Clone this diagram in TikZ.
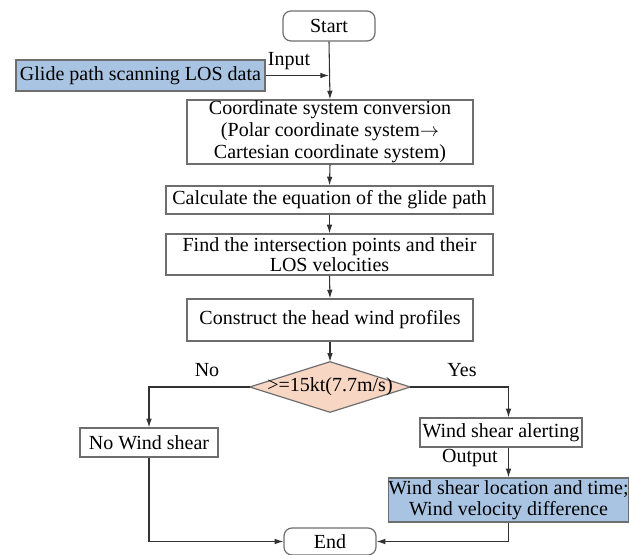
\documentclass[tikz,border=0pt]{standalone}
\usepackage{fontspec}
\setmainfont{Liberation Serif}
\usetikzlibrary{arrows.meta}
\definecolor{boxblue}{RGB}{168,196,226}
\definecolor{peach}{RGB}{248,214,196}
\definecolor{edgegray}{RGB}{110,110,110}
\definecolor{linegray}{RGB}{50,50,50}
\tikzset{
  box/.style={draw=edgegray, line width=0.9pt, fill=white, inner sep=0pt, align=center,
    font=\fontsize{15pt}{15.4pt}\selectfont},
  bluebox/.style={box, fill=boxblue},
  term/.style={box, rounded corners=6pt},
  lbl/.style={inner sep=0pt, font=\fontsize{15pt}{15.4pt}\selectfont},
  conn/.style={draw=linegray, line width=0.8pt},
  arr/.style={conn, -{Latex[length=6.5pt,width=4.2pt]}},
}
\begin{document}
\begin{tikzpicture}[x=0.75pt,y=-0.75pt]
\useasboundingbox (0,0) rectangle (629,555);
\node[term, minimum width=92*0.75pt, minimum height=30*0.75pt] (start) at (329,26) {Start};
\node[bluebox, minimum width=249*0.75pt, minimum height=31*0.75pt] (glide) at (140.5,75.5) {Glide path scanning LOS data};
\node[box, font=\fontsize{15pt}{16.6pt}\selectfont, minimum width=286*0.75pt, minimum height=64*0.75pt] (coord) at (330,132) {Coordinate system conversion\\(Polar coordinate system$\rightarrow$\\Cartesian coordinate system)};
\node[box, minimum width=327*0.75pt, minimum height=28*0.75pt] (calc) at (329.5,200) {Calculate the equation of the glide path};
\node[box, minimum width=327*0.75pt, minimum height=41*0.75pt] (find) at (329.5,254.5) {Find the intersection points and their\\LOS velocities};
\node[box, minimum width=286*0.75pt, minimum height=42*0.75pt] (cons) at (330,320) {Construct the head wind profiles};
\node[inner sep=0pt, minimum width=160*0.75pt, minimum height=50*0.75pt] (dia) at (330,387) {};
\fill[peach] (dia.north) -- (dia.east) -- (dia.south) -- (dia.west) -- cycle;
\draw[edgegray, line width=0.9pt] (dia.north) -- (dia.east) -- (dia.south) -- (dia.west) -- cycle;
\node[lbl] (diatext) at (dia.center) {>=15kt(7.7m/s)};
\node[box, minimum width=138*0.75pt, minimum height=29*0.75pt] (nows) at (149,442.5) {No Wind shear};
\node[box, minimum width=162*0.75pt, minimum height=29*0.75pt] (alert) at (501,432.5) {Wind shear alerting};
\node[bluebox, minimum width=227*0.75pt, minimum height=44*0.75pt] (res) at (508.5,500) {Wind shear location and time;\\Wind velocity difference};
\node[term, minimum width=92*0.75pt, minimum height=27*0.75pt] (end) at (330,541.5) {End};
\node[lbl] (inlbl) at (289,61) {Input};
\node[lbl] (nolbl) at (207,370) {No};
\node[lbl] (yeslbl) at (462,370) {Yes};
\node[lbl] (outlbl) at (470,458) {Output};
\coordinate (inp) at (start.south |- glide.east);
\draw[arr] (start.south) -- (coord.north);
\draw[arr] (glide.east) -- (inp);
\draw[arr] (coord.south) -- (calc.north);
\draw[arr] (calc.south) -- (find.north);
\draw[arr] (find.south) -- (cons.north);
\draw[arr] (cons.south) -- (dia.north);
\draw[arr] (dia.west) -| (nows.north);
\coordinate (alertin) at (res.north |- alert.north);
\coordinate (alertout) at (res.north |- alert.south);
\draw[arr] (dia.east) -| (alertin);
\draw[arr] (alertout) -- (res.north);
\draw[arr] (nows.south) |- (end.west);
\draw[arr] (res.south) |- (end.east);
\end{tikzpicture}
\end{document}
